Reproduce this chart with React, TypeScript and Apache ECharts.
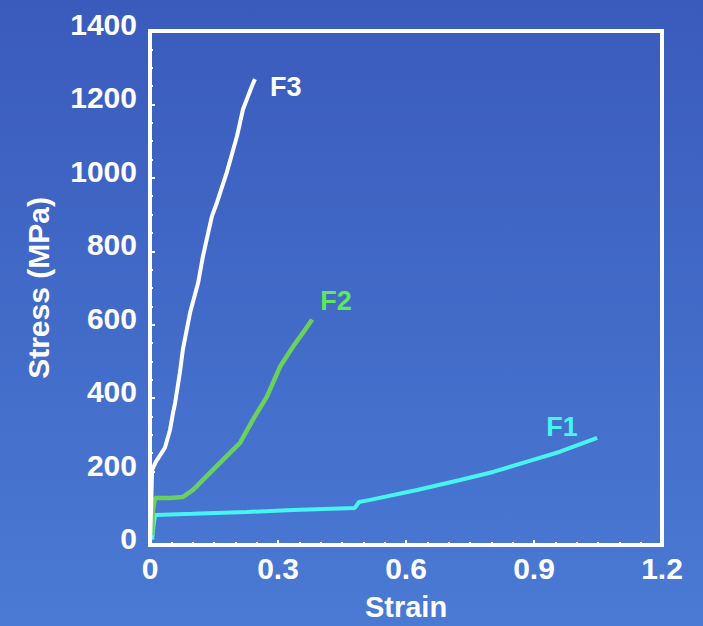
import React, { useEffect, useRef } from "react";
import * as echarts from "echarts";

const xTicks = [0, 0.3, 0.6, 0.9, 1.2];
const yTicks = [0, 200, 400, 600, 800, 1000, 1200, 1400];

const f1Strain = [0.005, 0.008, 0.012, 0.1, 0.227, 0.335, 0.48, 0.49, 0.516, 0.626, 0.727, 0.804, 0.884, 0.961, 1.048];
const f1Stress = [15, 50, 82, 85, 90, 95, 101, 117, 123, 150, 177, 199, 227, 254, 292];

const f2Strain = [0.005, 0.007, 0.012, 0.047, 0.077, 0.101, 0.141, 0.171, 0.211, 0.241, 0.274, 0.305, 0.335, 0.359, 0.38];
const f2Stress = [27, 95, 128, 128, 131, 150, 197, 232, 278, 341, 404, 486, 540, 579, 614];

const f3Strain = [0, 0.005, 0.014, 0.035, 0.047, 0.054, 0.059, 0.07, 0.077, 0.094, 0.113, 0.124, 0.145, 0.157, 0.18, 0.204, 0.218, 0.239, 0.246];
const f3Stress = [0, 205, 227, 265, 314, 360, 388, 469, 532, 633, 715, 786, 895, 933, 1015, 1114, 1187, 1250, 1269];

const FONT = "'Liberation Sans', Arial, sans-serif";

const zip = (xs: number[], ys: number[]) => xs.map((x, i) => [x, ys[i]]);

export default function App() {
  const ref = useRef<HTMLDivElement>(null);
  useEffect(() => {
    if (!ref.current) return;
    const chart = echarts.init(ref.current, undefined, { renderer: "svg" });
    const labelStyle = { fontFamily: FONT, fontWeight: "bold" as const, fontSize: 30 };
    const markStyle = { fontFamily: FONT, fontWeight: "bold" as const, fontSize: 27 };
    chart.setOption({
      animation: false,
      backgroundColor: {
        type: "linear", x: 0, y: 0, x2: 0, y2: 1,
        colorStops: [
          { offset: 0, color: "#3a5bbc" },
          { offset: 1, color: "#4a7ad4" },
        ],
      },
      grid: {
        left: 150, right: 41, top: 31, bottom: 81,
        show: true, borderColor: "#ffffff", borderWidth: 4, backgroundColor: "transparent",
      },
      xAxis: {
        type: "value", min: 0, max: 1.2, interval: 0.3,
        name: "Strain", nameLocation: "middle", nameGap: 47,
        nameTextStyle: { color: "#fff", fontFamily: FONT, fontWeight: "bold", fontSize: 29 },
        axisLine: { show: true, lineStyle: { color: "#fff", width: 4 } },
        axisTick: { show: true, inside: true, length: 5, lineStyle: { color: "#fff", width: 2 } },
        minorTick: { show: true, splitNumber: 6, length: 3, lineStyle: { color: "#fff", width: 2 } },
        splitLine: { show: false },
        axisLabel: {
          color: "#fff", margin: 8, ...labelStyle,
          formatter: (v: number) => {
            const i = xTicks.findIndex((t) => Math.abs(t - v) < 1e-6);
            return i >= 0 ? String(xTicks[i]) : "";
          },
        },
      },
      yAxis: {
        type: "value", min: 0, max: 1400, interval: 200,
        name: "Stress (MPa)", nameLocation: "middle", nameGap: 97, nameRotate: 90,
        nameTextStyle: { color: "#fff", fontFamily: FONT, fontWeight: "bold", fontSize: 30 },
        axisLine: { show: true, lineStyle: { color: "#fff", width: 4 } },
        axisTick: { show: true, inside: true, length: 5, lineStyle: { color: "#fff", width: 2 } },
        minorTick: { show: true, splitNumber: 4, length: 3, lineStyle: { color: "#fff", width: 2 } },
        splitLine: { show: false },
        axisLabel: {
          color: "#fff", margin: 13, ...labelStyle, verticalAlign: "bottom", lineHeight: 13,
          formatter: (v: number) => {
            const i = yTicks.indexOf(v);
            return i >= 0 ? String(yTicks[i]) : "";
          },
        },
      },
      series: [
        {
          name: "F1", type: "line", data: zip(f1Strain, f1Stress), showSymbol: false,
          lineStyle: { color: "#48f4f2", width: 4 }, itemStyle: { color: "#48f4f2" },
          endLabel: { show: true, formatter: "F1", color: "#48f4f2", ...markStyle, offset: [-59, -11] },
        },
        {
          name: "F2", type: "line", data: zip(f2Strain, f2Stress), showSymbol: false,
          lineStyle: { color: "#6ad25c", width: 4.5 }, itemStyle: { color: "#6ad25c" },
          endLabel: { show: true, formatter: "F2", color: "#5ee85a", ...markStyle, offset: [0, -19] },
        },
        {
          name: "F3", type: "line", data: zip(f3Strain, f3Stress), showSymbol: false,
          lineStyle: { color: "#ffffff", width: 4 }, itemStyle: { color: "#ffffff" },
          endLabel: { show: true, formatter: "F3", color: "#ffffff", ...markStyle, offset: [7, 8] },
        },
      ],
    });
    return () => chart.dispose();
  }, []);
  return <div ref={ref} style={{ width: 703, height: 626, position: "absolute", left: 0, top: 0 }} />;
}
